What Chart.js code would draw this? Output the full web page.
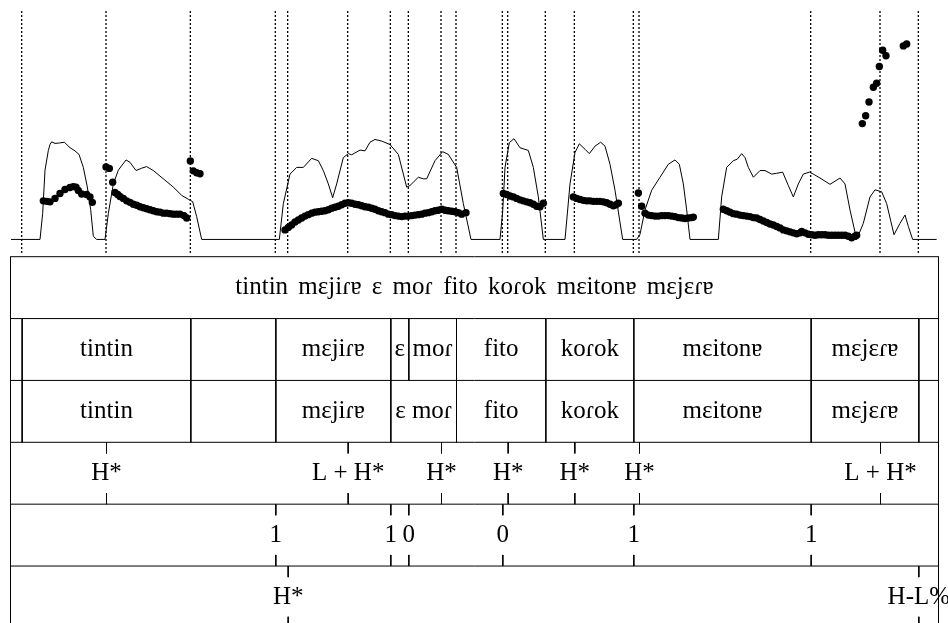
<!DOCTYPE html>
<html>
<head>
<meta charset="utf-8">
<script src="https://cdn.jsdelivr.net/npm/chart.js@4.4.1/dist/chart.umd.min.js"></script>
<style>
html, body { margin: 0; padding: 0; background: #fff; overflow: hidden; }
#signal { position: absolute; left: 0; top: 0; }
#tiers { position: absolute; left: 0; top: 256px; }
</style>
</head>
<body>
<canvas id="signal" width="948" height="257"></canvas>
<canvas id="tiers" width="948" height="374"></canvas>
<script>
// time in ms, intensity in dB
const intensity = [
    [3, 39.2], [90, 39.2], [98, 45.8], [105, 56.8], [115, 61.8], [120, 63.3], [125, 64.0], [135, 63.6], [148, 63.7], [163, 63.9],
    [180, 62.5], [195, 61.7], [207, 60.8], [220, 57.5], [232, 52.5], [242, 46.8], [250, 40.0], [260, 39.2], [285, 39.2],
    [295, 45.8], [310, 53.3], [325, 56.8], [348, 59.4], [360, 58.8], [378, 56.7], [395, 57.3], [410, 57.7], [430, 56.7], [460, 54.6],
    [490, 52.5], [515, 50.4], [535, 49.4], [548, 48.8], [560, 45.0], [575, 39.2],
    [808, 39.2], [820, 48.3], [840, 55.8], [860, 57.5], [880, 57.5], [905, 59.8], [925, 59.2], [940, 56.7], [955, 53.3], [968, 49.8],
    [980, 53.3], [1000, 60.0], [1015, 61.0], [1025, 60.7], [1050, 61.9], [1065, 61.7], [1080, 63.9], [1095, 64.6], [1115, 64.2], [1140, 63.3],
    [1165, 60.8], [1180, 55.8], [1190, 52.5], [1200, 52.9], [1225, 55.0], [1240, 54.6], [1250, 54.6], [1275, 59.2], [1298, 61.5], [1315, 60.8],
    [1340, 57.5], [1360, 48.3], [1383, 39.2],
    [1470, 39.2], [1478, 46.3], [1485, 57.5], [1498, 63.8], [1512, 64.8], [1530, 62.5], [1555, 61.8], [1570, 57.5], [1585, 50.0], [1600, 39.2],
    [1665, 39.2], [1680, 53.3], [1695, 61.3], [1708, 63.5], [1725, 62.1], [1738, 61.0], [1755, 62.9], [1772, 63.9], [1785, 62.9], [1800, 58.3],
    [1815, 51.7], [1838, 39.2],
    [1880, 39.2], [1890, 40.5], [1905, 46.7], [1925, 51.7], [1950, 55.0], [1975, 58.3], [1995, 59.4], [2008, 58.3], [2020, 53.3], [2030, 46.7],
    [2040, 39.2],
    [2125, 39.2], [2135, 50.0], [2150, 57.5], [2170, 59.2], [2182, 59.6], [2195, 61.0], [2205, 60.0], [2215, 57.5], [2230, 55.0], [2250, 56.7],
    [2265, 56.7], [2285, 55.8], [2300, 56.0], [2318, 56.3], [2335, 52.9], [2350, 50.0], [2365, 53.3], [2380, 55.8], [2398, 56.3], [2410, 55.8],
    [2430, 54.8], [2460, 53.2], [2490, 54.8], [2505, 53.3], [2520, 46.7], [2540, 39.2], [2560, 43.3], [2580, 50.0], [2595, 51.8], [2615, 51.3],
    [2630, 48.3], [2652, 40.4], [2670, 43.3], [2685, 45.4], [2695, 42.5], [2708, 39.2], [2780, 39.2]
];

// time in ms, F0 in Hz
const pitch = [
    [100, 156], [110, 155], [120, 154], [135, 161], [150, 171], [165, 179], [180, 183], [190, 185], [198, 184], [205, 177],
    [215, 170], [230, 169], [240, 164], [247, 153],
    [288, 225], [298, 222], [308, 194],
    [315, 173], [323, 169], [330, 165], [340, 161], [350, 156], [360, 153], [370, 149], [380, 147], [390, 144], [400, 142],
    [410, 140], [420, 138], [430, 136], [440, 134], [450, 133], [460, 131], [470, 131], [480, 130], [490, 129], [500, 129],
    [510, 129], [522, 126], [530, 121],
    [541, 237], [550, 217], [560, 213], [570, 211],
    [825, 97], [835, 102], [845, 107], [855, 113], [865, 117], [875, 121], [885, 125], [895, 128], [905, 131], [915, 133],
    [925, 134], [935, 135], [945, 136], [955, 138], [965, 141], [975, 143], [985, 145], [995, 148], [1005, 151], [1015, 152],
    [1025, 151], [1035, 149], [1045, 148], [1055, 146], [1065, 144], [1075, 143], [1085, 141], [1095, 139], [1105, 136], [1115, 134],
    [1125, 132], [1135, 129], [1145, 128], [1155, 126], [1165, 125], [1175, 124], [1185, 125], [1195, 125], [1205, 126], [1215, 127],
    [1225, 128], [1235, 129], [1245, 131], [1255, 132], [1265, 134], [1275, 136], [1285, 137], [1295, 139], [1305, 137], [1315, 136],
    [1325, 135], [1335, 134], [1345, 132], [1355, 129], [1368, 132],
    [1480, 171], [1490, 169], [1500, 166], [1510, 164], [1520, 161], [1530, 158], [1540, 156], [1550, 154], [1560, 152], [1570, 149],
    [1580, 145], [1590, 144], [1600, 151],
    [1690, 164], [1700, 161], [1710, 159], [1720, 157], [1730, 156], [1740, 156], [1750, 155], [1760, 155], [1770, 155], [1780, 154],
    [1790, 152], [1800, 149], [1810, 146], [1818, 148], [1825, 151],
    [1885, 172], [1895, 145],
    [1905, 131], [1915, 127], [1925, 126], [1935, 125], [1945, 125], [1955, 126], [1965, 126], [1975, 126], [1985, 125], [1995, 124],
    [2005, 122], [2015, 121], [2025, 120], [2035, 121], [2045, 122], [2050, 123],
    [2140, 139], [2150, 136], [2160, 133], [2170, 130], [2180, 129], [2190, 127], [2200, 126], [2210, 125], [2220, 124], [2230, 122],
    [2240, 121], [2250, 118], [2260, 115], [2270, 112], [2280, 109], [2290, 107], [2300, 104], [2310, 101], [2320, 97], [2330, 95],
    [2340, 93], [2350, 91], [2360, 89], [2370, 91], [2375, 94], [2385, 91], [2395, 88], [2405, 87], [2415, 86], [2425, 87],
    [2435, 87], [2445, 87], [2455, 86], [2465, 86], [2475, 86], [2485, 86], [2495, 86], [2505, 86], [2515, 84], [2525, 81],
    [2535, 84], [2540, 86],
    [2557, 313], [2567, 329], [2577, 357], [2590, 387], [2600, 395], [2608, 429], [2618, 462], [2628, 451], [2680, 471], [2690, 475]
];

const duration = 2784;

// tier 1: whole utterance
const sentence = 'tintin mɛjiɾɐ ɛ moɾ fito koɾok mɛitonɐ mɛjɛɾɐ';

// tier 2: words
const wordBounds = [35, 541, 796, 1141, 1195, 1338, 1606, 1870, 2402, 2725];
const wordLabels = ['', 'tintin', '', 'mɛjiɾɐ', 'ɛ', 'moɾ', 'fito', 'koɾok', 'mɛitonɐ', 'mɛjɛɾɐ', ''];

// tier 3: prosodic words
const groupBounds = [35, 541, 796, 1141, 1338, 1606, 1870, 2402, 2725];
const groupLabels = ['', 'tintin', '', 'mɛjiɾɐ', 'ɛ moɾ', 'fito', 'koɾok', 'mɛitonɐ', 'mɛjɛɾɐ', ''];

// tier 4: pitch accents
const toneTimes = [288, 1013, 1293, 1493, 1693, 1887, 2610];
const toneLabels = ['H*', 'L + H*', 'H*', 'H*', 'H*', 'H*', 'L + H*'];

// tier 5: break indices
const breakTimes = [796, 1141, 1195, 1477, 1870, 2402];
const breakLabels = ['1', '1', '0', '0', '1', '1'];

// tier 6: phrase tones
const phraseTimes = [833, 2725];
const phraseLabels = ['H*', 'H-L%'];

const guideTimes = [...new Set([...wordBounds, ...groupBounds, ...toneTimes, ...breakTimes, ...phraseTimes])]
    .sort((a, b) => a - b);

const hzMin = 50, hzMax = 546;

const guides = [];
guideTimes.forEach(t => {
    guides.push({ x: t, y: hzMin }, { x: t, y: hzMax }, { x: t, y: null });
});

new Chart(document.getElementById('signal'), {
    type: 'scatter',
    data: {
        datasets: [
            {
                type: 'line',
                data: guides,
                yAxisID: 'yHz',
                borderColor: '#000',
                borderWidth: 1.3,
                borderDash: [2, 2],
                pointRadius: 0,
                spanGaps: false
            },
            {
                type: 'line',
                data: intensity.map(([t, db]) => ({ x: t, y: db })),
                yAxisID: 'yDb',
                borderColor: '#000',
                borderWidth: 1,
                pointRadius: 0,
                tension: 0
            },
            {
                data: pitch.map(([t, hz]) => ({ x: t, y: hz })),
                yAxisID: 'yHz',
                pointRadius: 3.7,
                pointBorderWidth: 0,
                backgroundColor: '#000',
                borderColor: '#000'
            }
        ]
    },
    options: {
        responsive: false,
        animation: false,
        events: [],
        layout: { padding: { left: 10, right: 10, top: 9, bottom: 0 } },
        plugins: { legend: { display: false }, tooltip: { enabled: false } },
        scales: {
            x: { type: 'linear', min: 0, max: duration, display: false },
            yHz: { type: 'linear', min: hzMin, max: hzMax, display: false },
            yDb: { type: 'linear', min: 35.75, max: 97.75, display: false }
        }
    }
});

// tier frame, interval boundaries and point ticks, in (time, tier row) units
const tick = 0.18;
const frame = [];
function seg(x0, y0, x1, y1) {
    frame.push({ x: x0, y: y0 }, { x: x1, y: y1 }, { x: x1, y: null });
}
for (let r = 0; r <= 6; r++) seg(0, r, duration, r);
seg(0, 0, 0, 6);
seg(duration, 0, duration, 6);
wordBounds.forEach(t => seg(t, 1, t, 2));
groupBounds.forEach(t => seg(t, 2, t, 3));
[[toneTimes, 3], [breakTimes, 4], [phraseTimes, 5]].forEach(([times, r]) => {
    times.forEach(t => {
        seg(t, r, t, r + tick);
        seg(t, r + 1 - tick, t, r + 1);
    });
});

const texts = [{ t: duration / 2, row: 0, s: sentence, gap: '4px' }];
function intervalTexts(bounds, labels, row) {
    const edges = [0, ...bounds, duration];
    labels.forEach((s, i) => {
        if (s) texts.push({ t: (edges[i] + edges[i + 1]) / 2, row, s });
    });
}
intervalTexts(wordBounds, wordLabels, 1);
intervalTexts(groupBounds, groupLabels, 2);
toneTimes.forEach((t, i) => texts.push({ t, row: 3, s: toneLabels[i] }));
breakTimes.forEach((t, i) => texts.push({ t, row: 4, s: breakLabels[i] }));
phraseTimes.forEach((t, i) => texts.push({ t, row: 5, s: phraseLabels[i] }));

const tierText = {
    id: 'tierText',
    afterDatasetsDraw(chart) {
        const { ctx, scales: { x, y } } = chart;
        ctx.save();
        ctx.fillStyle = '#000';
        ctx.font = '25px "Liberation Serif", "Times New Roman", serif';
        ctx.textAlign = 'center';
        ctx.textBaseline = 'middle';
        texts.forEach(d => {
            ctx.wordSpacing = d.gap || '0px';
            ctx.fillText(d.s, x.getPixelForValue(d.t), y.getPixelForValue(d.row + 0.5));
        });
        ctx.restore();
    }
};

new Chart(document.getElementById('tiers'), {
    type: 'line',
    data: {
        datasets: [{
            data: frame,
            borderColor: '#000',
            borderWidth: 1,
            pointRadius: 0,
            spanGaps: false,
            clip: false
        }]
    },
    options: {
        responsive: false,
        animation: false,
        events: [],
        layout: { padding: { left: 10.5, right: 9.5, top: 0.7, bottom: 2.1 } },
        plugins: { legend: { display: false }, tooltip: { enabled: false } },
        scales: {
            x: { type: 'linear', min: 0, max: duration, display: false },
            y: { type: 'linear', min: 0, max: 6, reverse: true, display: false }
        }
    },
    plugins: [tierText]
});
</script>
</body>
</html>
